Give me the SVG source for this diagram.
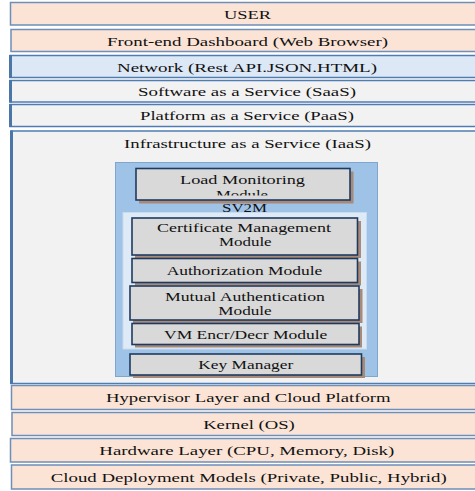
<svg xmlns="http://www.w3.org/2000/svg" width="475" height="491" viewBox="0 0 475 491">
  <defs>
    <style>
      .lbl { font-family: "Liberation Serif", "DejaVu Serif", serif; font-size: 12.5px; fill: #111111; text-anchor: middle; }
      .layer { stroke: #4f7db3; stroke-width: 1.5; }
      .peach { fill: #fbe4d6; }
      .blue { fill: #dce8f5; }
      .grey { fill: #f2f2f2; }
      .edge { fill: #4a76a8; }
      .mod { fill: #d9d9d9; stroke: #1f3a60; stroke-width: 1.6; }
      .shadow { fill: #a88a78; }
    </style>
    <clipPath id="loadClip">
      <rect x="130" y="166" width="230" height="29.5"/>
    </clipPath>
  </defs>

  <rect width="475" height="491" fill="#ffffff"/>

  <!-- upper layers -->
  <g id="user">
    <rect class="layer peach" x="10.5" y="2.5" width="480" height="22.5" style="stroke:#6d8fb8"/>
    <text class="lbl" x="247.5" y="19" textLength="47" lengthAdjust="spacingAndGlyphs">USER</text>
  </g>
  <g id="frontend">
    <rect class="layer peach" x="11" y="29.5" width="480" height="22" style="stroke:#6d8fb8"/>
    <text class="lbl" x="247.5" y="45.5" textLength="281" lengthAdjust="spacingAndGlyphs">Front-end Dashboard (Web Browser)</text>
  </g>
  <g id="network">
    <rect class="layer blue" x="10" y="55.5" width="480" height="22"/>
    <rect class="edge" x="9" y="55" width="3" height="23"/>
    <text class="lbl" x="247" y="71.5" textLength="260" lengthAdjust="spacingAndGlyphs">Network (Rest API.JSON.HTML)</text>
  </g>
  <g id="saas">
    <rect class="layer grey" x="10" y="80.5" width="480" height="21.5"/>
    <rect class="edge" x="9" y="80" width="3" height="22.5"/>
    <text class="lbl" x="247" y="95.5" textLength="218" lengthAdjust="spacingAndGlyphs">Software as a Service (SaaS)</text>
  </g>
  <g id="paas">
    <rect class="layer grey" x="10" y="104.5" width="480" height="22"/>
    <rect class="edge" x="9" y="104" width="3" height="23"/>
    <text class="lbl" x="247" y="120" textLength="214" lengthAdjust="spacingAndGlyphs">Platform as a Service (PaaS)</text>
  </g>

  <!-- IaaS layer holding the SV2M stack -->
  <g id="iaas">
    <rect class="layer grey" x="11" y="131" width="480" height="252.5"/>
    <rect class="edge" x="10" y="130.5" width="3" height="253.5"/>
    <text class="lbl" x="247.5" y="147.5" textLength="247" lengthAdjust="spacingAndGlyphs">Infrastructure as a Service (IaaS)</text>
  </g>

  <g id="sv2m">
    <rect x="115.5" y="162.5" width="262" height="214" fill="#9fc3e7" stroke="#7fa6cf" stroke-width="1"/>
    <rect x="123" y="212.5" width="243.5" height="136.5" fill="#deebf7" stroke="#c9dbee" stroke-width="1"/>
    <text class="lbl" x="244.5" y="212" textLength="45" lengthAdjust="spacingAndGlyphs">SV2M</text>
  </g>

  <g id="load-monitoring">
    <rect class="shadow" x="139" y="171.5" width="214.5" height="32"/>
    <rect class="mod" x="136" y="168.5" width="214" height="31.5"/>
    <text class="lbl" x="242.5" y="184" textLength="125" lengthAdjust="spacingAndGlyphs">Load  Monitoring</text>
    <text class="lbl" x="242" y="198.5" textLength="52" lengthAdjust="spacingAndGlyphs" clip-path="url(#loadClip)">Module</text>
  </g>

  <g id="certificate-management">
    <rect class="shadow" x="135" y="221" width="226" height="37"/>
    <rect class="mod" x="132" y="218" width="225.5" height="37"/>
    <text class="lbl" x="244" y="231.5" textLength="174" lengthAdjust="spacingAndGlyphs">Certificate  Management</text>
    <text class="lbl" x="245.3" y="245.5" textLength="52.7" lengthAdjust="spacingAndGlyphs">Module</text>
  </g>

  <g id="authorization">
    <rect class="shadow" x="135" y="261.5" width="226" height="24"/>
    <rect class="mod" x="132" y="258.5" width="225.5" height="24"/>
    <text class="lbl" x="244.5" y="274.5" textLength="155.6" lengthAdjust="spacingAndGlyphs">Authorization Module</text>
  </g>

  <g id="mutual-authentication">
    <rect class="shadow" x="133" y="289" width="229.5" height="34"/>
    <rect class="mod" x="130" y="286" width="229" height="34"/>
    <text class="lbl" x="245" y="300.5" textLength="160" lengthAdjust="spacingAndGlyphs">Mutual Authentication</text>
    <text class="lbl" x="245" y="314.5" textLength="53.4" lengthAdjust="spacingAndGlyphs">Module</text>
  </g>

  <g id="vm-encr-decr">
    <rect class="shadow" x="135" y="326.5" width="227" height="21"/>
    <rect class="mod" x="132" y="323.5" width="227" height="21"/>
    <text class="lbl" x="245.7" y="339" textLength="163.3" lengthAdjust="spacingAndGlyphs">VM Encr/Decr Module</text>
  </g>

  <g id="key-manager">
    <rect class="shadow" x="133" y="357" width="232" height="21"/>
    <rect class="mod" x="130" y="354" width="231.5" height="21"/>
    <text class="lbl" x="245.8" y="368.5" textLength="95" lengthAdjust="spacingAndGlyphs">Key Manager</text>
  </g>

  <!-- lower layers -->
  <g id="hypervisor">
    <rect class="layer peach" x="11.5" y="385.5" width="480" height="24" style="stroke:#6d8fb8"/>
    <text class="lbl" x="248.3" y="401.5" textLength="284.7" lengthAdjust="spacingAndGlyphs">Hypervisor Layer and Cloud Platform</text>
  </g>
  <g id="kernel">
    <rect class="layer peach" x="12" y="412.5" width="480" height="23" style="stroke:#6d8fb8"/>
    <text class="lbl" x="249" y="429" textLength="91.7" lengthAdjust="spacingAndGlyphs">Kernel (OS)</text>
  </g>
  <g id="hardware">
    <rect class="layer peach" x="10.5" y="438.5" width="480" height="23.5" style="stroke:#6d8fb8"/>
    <text class="lbl" x="246.8" y="455" textLength="295" lengthAdjust="spacingAndGlyphs">Hardware Layer (CPU, Memory, Disk)</text>
  </g>
  <g id="deployment">
    <rect class="layer peach" x="11.5" y="465" width="480" height="24" style="stroke:#6d8fb8"/>
    <text class="lbl" x="248.7" y="482" textLength="396" lengthAdjust="spacingAndGlyphs">Cloud Deployment Models (Private, Public, Hybrid)</text>
  </g>
</svg>
